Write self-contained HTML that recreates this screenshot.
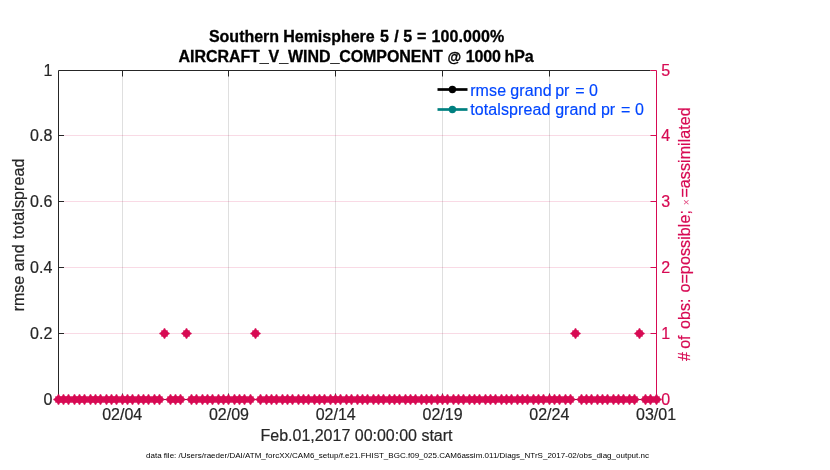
<!DOCTYPE html>
<html lang="en"><head><meta charset="utf-8"><title>AIRCRAFT_V_WIND_COMPONENT @ 1000 hPa</title>
<style>html,body{margin:0;padding:0;background:#fff;}body{width:830px;height:470px;overflow:hidden;}svg{display:block;}text{font-family:"Liberation Sans",Arial,Helvetica,sans-serif;font-size:16px;white-space:pre;}.k{stroke:#262626;stroke-width:0.2px;}.r{stroke:#d70a53;stroke-width:0.2px;}</style>
</head><body>
<svg width="830" height="470" viewBox="0 0 830 470">
<rect width="830" height="470" fill="#fff"/>
<g stroke="#262626" stroke-opacity="0.15" stroke-width="1">
<line x1="122.50" y1="70.5" x2="122.50" y2="399.5"/>
<line x1="228.50" y1="70.5" x2="228.50" y2="399.5"/>
<line x1="335.50" y1="70.5" x2="335.50" y2="399.5"/>
<line x1="442.50" y1="70.5" x2="442.50" y2="399.5"/>
<line x1="549.50" y1="70.5" x2="549.50" y2="399.5"/>
</g>
<g stroke="#d70a53" stroke-opacity="0.15" stroke-width="1">
<line x1="58.5" y1="333.50" x2="656.5" y2="333.50"/>
<line x1="58.5" y1="267.50" x2="656.5" y2="267.50"/>
<line x1="58.5" y1="201.50" x2="656.5" y2="201.50"/>
<line x1="58.5" y1="135.50" x2="656.5" y2="135.50"/>
</g>
<g stroke="#262626" stroke-width="1" fill="none">
<path d="M58.5 399.5V70.5H650.5"/>
<path d="M58.5 399.5H656.5"/>
<path d="M122.50 70.5v6M122.50 399.5v-6"/>
<path d="M228.50 70.5v6M228.50 399.5v-6"/>
<path d="M335.50 70.5v6M335.50 399.5v-6"/>
<path d="M442.50 70.5v6M442.50 399.5v-6"/>
<path d="M549.50 70.5v6M549.50 399.5v-6"/>
<path d="M58.5 333.50h5.5"/>
<path d="M58.5 267.50h5.5"/>
<path d="M58.5 201.50h5.5"/>
<path d="M58.5 135.50h5.5"/>
</g>
<g stroke="#d70a53" stroke-width="1" fill="none">
<path d="M656.5 399.5V70.5h-6"/>
<path d="M656.5 399.50h-6"/>
<path d="M656.5 333.50h-6"/>
<path d="M656.5 267.50h-6"/>
<path d="M656.5 201.50h-6"/>
<path d="M656.5 135.50h-6"/>
</g>
<g fill="#d70a53">
<polygon points="63.65,400.10 61.80,401.00 61.80,402.30 61.30,402.80 60.00,402.80 59.10,404.65 57.90,404.65 57.00,402.80 55.70,402.80 55.20,402.30 55.20,401.00 53.35,400.10 53.35,398.90 55.20,398.00 55.20,396.70 55.70,396.20 57.00,396.20 57.90,394.35 59.10,394.35 60.00,396.20 61.30,396.20 61.80,396.70 61.80,398.00 63.65,398.90"/>
<polygon points="68.65,400.10 66.80,401.00 66.80,402.30 66.30,402.80 65.00,402.80 64.10,404.65 62.90,404.65 62.00,402.80 60.70,402.80 60.20,402.30 60.20,401.00 58.35,400.10 58.35,398.90 60.20,398.00 60.20,396.70 60.70,396.20 62.00,396.20 62.90,394.35 64.10,394.35 65.00,396.20 66.30,396.20 66.80,396.70 66.80,398.00 68.65,398.90"/>
<polygon points="73.65,400.10 71.80,401.00 71.80,402.30 71.30,402.80 70.00,402.80 69.10,404.65 67.90,404.65 67.00,402.80 65.70,402.80 65.20,402.30 65.20,401.00 63.35,400.10 63.35,398.90 65.20,398.00 65.20,396.70 65.70,396.20 67.00,396.20 67.90,394.35 69.10,394.35 70.00,396.20 71.30,396.20 71.80,396.70 71.80,398.00 73.65,398.90"/>
<polygon points="79.65,400.10 77.80,401.00 77.80,402.30 77.30,402.80 76.00,402.80 75.10,404.65 73.90,404.65 73.00,402.80 71.70,402.80 71.20,402.30 71.20,401.00 69.35,400.10 69.35,398.90 71.20,398.00 71.20,396.70 71.70,396.20 73.00,396.20 73.90,394.35 75.10,394.35 76.00,396.20 77.30,396.20 77.80,396.70 77.80,398.00 79.65,398.90"/>
<polygon points="84.65,400.10 82.80,401.00 82.80,402.30 82.30,402.80 81.00,402.80 80.10,404.65 78.90,404.65 78.00,402.80 76.70,402.80 76.20,402.30 76.20,401.00 74.35,400.10 74.35,398.90 76.20,398.00 76.20,396.70 76.70,396.20 78.00,396.20 78.90,394.35 80.10,394.35 81.00,396.20 82.30,396.20 82.80,396.70 82.80,398.00 84.65,398.90"/>
<polygon points="89.65,400.10 87.80,401.00 87.80,402.30 87.30,402.80 86.00,402.80 85.10,404.65 83.90,404.65 83.00,402.80 81.70,402.80 81.20,402.30 81.20,401.00 79.35,400.10 79.35,398.90 81.20,398.00 81.20,396.70 81.70,396.20 83.00,396.20 83.90,394.35 85.10,394.35 86.00,396.20 87.30,396.20 87.80,396.70 87.80,398.00 89.65,398.90"/>
<polygon points="95.65,400.10 93.80,401.00 93.80,402.30 93.30,402.80 92.00,402.80 91.10,404.65 89.90,404.65 89.00,402.80 87.70,402.80 87.20,402.30 87.20,401.00 85.35,400.10 85.35,398.90 87.20,398.00 87.20,396.70 87.70,396.20 89.00,396.20 89.90,394.35 91.10,394.35 92.00,396.20 93.30,396.20 93.80,396.70 93.80,398.00 95.65,398.90"/>
<polygon points="100.65,400.10 98.80,401.00 98.80,402.30 98.30,402.80 97.00,402.80 96.10,404.65 94.90,404.65 94.00,402.80 92.70,402.80 92.20,402.30 92.20,401.00 90.35,400.10 90.35,398.90 92.20,398.00 92.20,396.70 92.70,396.20 94.00,396.20 94.90,394.35 96.10,394.35 97.00,396.20 98.30,396.20 98.80,396.70 98.80,398.00 100.65,398.90"/>
<polygon points="105.65,400.10 103.80,401.00 103.80,402.30 103.30,402.80 102.00,402.80 101.10,404.65 99.90,404.65 99.00,402.80 97.70,402.80 97.20,402.30 97.20,401.00 95.35,400.10 95.35,398.90 97.20,398.00 97.20,396.70 97.70,396.20 99.00,396.20 99.90,394.35 101.10,394.35 102.00,396.20 103.30,396.20 103.80,396.70 103.80,398.00 105.65,398.90"/>
<polygon points="111.65,400.10 109.80,401.00 109.80,402.30 109.30,402.80 108.00,402.80 107.10,404.65 105.90,404.65 105.00,402.80 103.70,402.80 103.20,402.30 103.20,401.00 101.35,400.10 101.35,398.90 103.20,398.00 103.20,396.70 103.70,396.20 105.00,396.20 105.90,394.35 107.10,394.35 108.00,396.20 109.30,396.20 109.80,396.70 109.80,398.00 111.65,398.90"/>
<polygon points="116.65,400.10 114.80,401.00 114.80,402.30 114.30,402.80 113.00,402.80 112.10,404.65 110.90,404.65 110.00,402.80 108.70,402.80 108.20,402.30 108.20,401.00 106.35,400.10 106.35,398.90 108.20,398.00 108.20,396.70 108.70,396.20 110.00,396.20 110.90,394.35 112.10,394.35 113.00,396.20 114.30,396.20 114.80,396.70 114.80,398.00 116.65,398.90"/>
<polygon points="121.65,400.10 119.80,401.00 119.80,402.30 119.30,402.80 118.00,402.80 117.10,404.65 115.90,404.65 115.00,402.80 113.70,402.80 113.20,402.30 113.20,401.00 111.35,400.10 111.35,398.90 113.20,398.00 113.20,396.70 113.70,396.20 115.00,396.20 115.90,394.35 117.10,394.35 118.00,396.20 119.30,396.20 119.80,396.70 119.80,398.00 121.65,398.90"/>
<polygon points="127.65,400.10 125.80,401.00 125.80,402.30 125.30,402.80 124.00,402.80 123.10,404.65 121.90,404.65 121.00,402.80 119.70,402.80 119.20,402.30 119.20,401.00 117.35,400.10 117.35,398.90 119.20,398.00 119.20,396.70 119.70,396.20 121.00,396.20 121.90,394.35 123.10,394.35 124.00,396.20 125.30,396.20 125.80,396.70 125.80,398.00 127.65,398.90"/>
<polygon points="132.65,400.10 130.80,401.00 130.80,402.30 130.30,402.80 129.00,402.80 128.10,404.65 126.90,404.65 126.00,402.80 124.70,402.80 124.20,402.30 124.20,401.00 122.35,400.10 122.35,398.90 124.20,398.00 124.20,396.70 124.70,396.20 126.00,396.20 126.90,394.35 128.10,394.35 129.00,396.20 130.30,396.20 130.80,396.70 130.80,398.00 132.65,398.90"/>
<polygon points="137.65,400.10 135.80,401.00 135.80,402.30 135.30,402.80 134.00,402.80 133.10,404.65 131.90,404.65 131.00,402.80 129.70,402.80 129.20,402.30 129.20,401.00 127.35,400.10 127.35,398.90 129.20,398.00 129.20,396.70 129.70,396.20 131.00,396.20 131.90,394.35 133.10,394.35 134.00,396.20 135.30,396.20 135.80,396.70 135.80,398.00 137.65,398.90"/>
<polygon points="143.65,400.10 141.80,401.00 141.80,402.30 141.30,402.80 140.00,402.80 139.10,404.65 137.90,404.65 137.00,402.80 135.70,402.80 135.20,402.30 135.20,401.00 133.35,400.10 133.35,398.90 135.20,398.00 135.20,396.70 135.70,396.20 137.00,396.20 137.90,394.35 139.10,394.35 140.00,396.20 141.30,396.20 141.80,396.70 141.80,398.00 143.65,398.90"/>
<polygon points="148.65,400.10 146.80,401.00 146.80,402.30 146.30,402.80 145.00,402.80 144.10,404.65 142.90,404.65 142.00,402.80 140.70,402.80 140.20,402.30 140.20,401.00 138.35,400.10 138.35,398.90 140.20,398.00 140.20,396.70 140.70,396.20 142.00,396.20 142.90,394.35 144.10,394.35 145.00,396.20 146.30,396.20 146.80,396.70 146.80,398.00 148.65,398.90"/>
<polygon points="153.65,400.10 151.80,401.00 151.80,402.30 151.30,402.80 150.00,402.80 149.10,404.65 147.90,404.65 147.00,402.80 145.70,402.80 145.20,402.30 145.20,401.00 143.35,400.10 143.35,398.90 145.20,398.00 145.20,396.70 145.70,396.20 147.00,396.20 147.90,394.35 149.10,394.35 150.00,396.20 151.30,396.20 151.80,396.70 151.80,398.00 153.65,398.90"/>
<polygon points="159.65,400.10 157.80,401.00 157.80,402.30 157.30,402.80 156.00,402.80 155.10,404.65 153.90,404.65 153.00,402.80 151.70,402.80 151.20,402.30 151.20,401.00 149.35,400.10 149.35,398.90 151.20,398.00 151.20,396.70 151.70,396.20 153.00,396.20 153.90,394.35 155.10,394.35 156.00,396.20 157.30,396.20 157.80,396.70 157.80,398.00 159.65,398.90"/>
<polygon points="164.65,400.10 162.80,401.00 162.80,402.30 162.30,402.80 161.00,402.80 160.10,404.65 158.90,404.65 158.00,402.80 156.70,402.80 156.20,402.30 156.20,401.00 154.35,400.10 154.35,398.90 156.20,398.00 156.20,396.70 156.70,396.20 158.00,396.20 158.90,394.35 160.10,394.35 161.00,396.20 162.30,396.20 162.80,396.70 162.80,398.00 164.65,398.90"/>
<polygon points="169.65,334.10 167.80,335.00 167.80,336.30 167.30,336.80 166.00,336.80 165.10,338.65 163.90,338.65 163.00,336.80 161.70,336.80 161.20,336.30 161.20,335.00 159.35,334.10 159.35,332.90 161.20,332.00 161.20,330.70 161.70,330.20 163.00,330.20 163.90,328.35 165.10,328.35 166.00,330.20 167.30,330.20 167.80,330.70 167.80,332.00 169.65,332.90"/>
<polygon points="175.65,400.10 173.80,401.00 173.80,402.30 173.30,402.80 172.00,402.80 171.10,404.65 169.90,404.65 169.00,402.80 167.70,402.80 167.20,402.30 167.20,401.00 165.35,400.10 165.35,398.90 167.20,398.00 167.20,396.70 167.70,396.20 169.00,396.20 169.90,394.35 171.10,394.35 172.00,396.20 173.30,396.20 173.80,396.70 173.80,398.00 175.65,398.90"/>
<polygon points="180.65,400.10 178.80,401.00 178.80,402.30 178.30,402.80 177.00,402.80 176.10,404.65 174.90,404.65 174.00,402.80 172.70,402.80 172.20,402.30 172.20,401.00 170.35,400.10 170.35,398.90 172.20,398.00 172.20,396.70 172.70,396.20 174.00,396.20 174.90,394.35 176.10,394.35 177.00,396.20 178.30,396.20 178.80,396.70 178.80,398.00 180.65,398.90"/>
<polygon points="185.65,400.10 183.80,401.00 183.80,402.30 183.30,402.80 182.00,402.80 181.10,404.65 179.90,404.65 179.00,402.80 177.70,402.80 177.20,402.30 177.20,401.00 175.35,400.10 175.35,398.90 177.20,398.00 177.20,396.70 177.70,396.20 179.00,396.20 179.90,394.35 181.10,394.35 182.00,396.20 183.30,396.20 183.80,396.70 183.80,398.00 185.65,398.90"/>
<polygon points="191.65,334.10 189.80,335.00 189.80,336.30 189.30,336.80 188.00,336.80 187.10,338.65 185.90,338.65 185.00,336.80 183.70,336.80 183.20,336.30 183.20,335.00 181.35,334.10 181.35,332.90 183.20,332.00 183.20,330.70 183.70,330.20 185.00,330.20 185.90,328.35 187.10,328.35 188.00,330.20 189.30,330.20 189.80,330.70 189.80,332.00 191.65,332.90"/>
<polygon points="196.65,400.10 194.80,401.00 194.80,402.30 194.30,402.80 193.00,402.80 192.10,404.65 190.90,404.65 190.00,402.80 188.70,402.80 188.20,402.30 188.20,401.00 186.35,400.10 186.35,398.90 188.20,398.00 188.20,396.70 188.70,396.20 190.00,396.20 190.90,394.35 192.10,394.35 193.00,396.20 194.30,396.20 194.80,396.70 194.80,398.00 196.65,398.90"/>
<polygon points="201.65,400.10 199.80,401.00 199.80,402.30 199.30,402.80 198.00,402.80 197.10,404.65 195.90,404.65 195.00,402.80 193.70,402.80 193.20,402.30 193.20,401.00 191.35,400.10 191.35,398.90 193.20,398.00 193.20,396.70 193.70,396.20 195.00,396.20 195.90,394.35 197.10,394.35 198.00,396.20 199.30,396.20 199.80,396.70 199.80,398.00 201.65,398.90"/>
<polygon points="207.65,400.10 205.80,401.00 205.80,402.30 205.30,402.80 204.00,402.80 203.10,404.65 201.90,404.65 201.00,402.80 199.70,402.80 199.20,402.30 199.20,401.00 197.35,400.10 197.35,398.90 199.20,398.00 199.20,396.70 199.70,396.20 201.00,396.20 201.90,394.35 203.10,394.35 204.00,396.20 205.30,396.20 205.80,396.70 205.80,398.00 207.65,398.90"/>
<polygon points="212.65,400.10 210.80,401.00 210.80,402.30 210.30,402.80 209.00,402.80 208.10,404.65 206.90,404.65 206.00,402.80 204.70,402.80 204.20,402.30 204.20,401.00 202.35,400.10 202.35,398.90 204.20,398.00 204.20,396.70 204.70,396.20 206.00,396.20 206.90,394.35 208.10,394.35 209.00,396.20 210.30,396.20 210.80,396.70 210.80,398.00 212.65,398.90"/>
<polygon points="217.65,400.10 215.80,401.00 215.80,402.30 215.30,402.80 214.00,402.80 213.10,404.65 211.90,404.65 211.00,402.80 209.70,402.80 209.20,402.30 209.20,401.00 207.35,400.10 207.35,398.90 209.20,398.00 209.20,396.70 209.70,396.20 211.00,396.20 211.90,394.35 213.10,394.35 214.00,396.20 215.30,396.20 215.80,396.70 215.80,398.00 217.65,398.90"/>
<polygon points="223.65,400.10 221.80,401.00 221.80,402.30 221.30,402.80 220.00,402.80 219.10,404.65 217.90,404.65 217.00,402.80 215.70,402.80 215.20,402.30 215.20,401.00 213.35,400.10 213.35,398.90 215.20,398.00 215.20,396.70 215.70,396.20 217.00,396.20 217.90,394.35 219.10,394.35 220.00,396.20 221.30,396.20 221.80,396.70 221.80,398.00 223.65,398.90"/>
<polygon points="228.65,400.10 226.80,401.00 226.80,402.30 226.30,402.80 225.00,402.80 224.10,404.65 222.90,404.65 222.00,402.80 220.70,402.80 220.20,402.30 220.20,401.00 218.35,400.10 218.35,398.90 220.20,398.00 220.20,396.70 220.70,396.20 222.00,396.20 222.90,394.35 224.10,394.35 225.00,396.20 226.30,396.20 226.80,396.70 226.80,398.00 228.65,398.90"/>
<polygon points="233.65,400.10 231.80,401.00 231.80,402.30 231.30,402.80 230.00,402.80 229.10,404.65 227.90,404.65 227.00,402.80 225.70,402.80 225.20,402.30 225.20,401.00 223.35,400.10 223.35,398.90 225.20,398.00 225.20,396.70 225.70,396.20 227.00,396.20 227.90,394.35 229.10,394.35 230.00,396.20 231.30,396.20 231.80,396.70 231.80,398.00 233.65,398.90"/>
<polygon points="239.65,400.10 237.80,401.00 237.80,402.30 237.30,402.80 236.00,402.80 235.10,404.65 233.90,404.65 233.00,402.80 231.70,402.80 231.20,402.30 231.20,401.00 229.35,400.10 229.35,398.90 231.20,398.00 231.20,396.70 231.70,396.20 233.00,396.20 233.90,394.35 235.10,394.35 236.00,396.20 237.30,396.20 237.80,396.70 237.80,398.00 239.65,398.90"/>
<polygon points="244.65,400.10 242.80,401.00 242.80,402.30 242.30,402.80 241.00,402.80 240.10,404.65 238.90,404.65 238.00,402.80 236.70,402.80 236.20,402.30 236.20,401.00 234.35,400.10 234.35,398.90 236.20,398.00 236.20,396.70 236.70,396.20 238.00,396.20 238.90,394.35 240.10,394.35 241.00,396.20 242.30,396.20 242.80,396.70 242.80,398.00 244.65,398.90"/>
<polygon points="249.65,400.10 247.80,401.00 247.80,402.30 247.30,402.80 246.00,402.80 245.10,404.65 243.90,404.65 243.00,402.80 241.70,402.80 241.20,402.30 241.20,401.00 239.35,400.10 239.35,398.90 241.20,398.00 241.20,396.70 241.70,396.20 243.00,396.20 243.90,394.35 245.10,394.35 246.00,396.20 247.30,396.20 247.80,396.70 247.80,398.00 249.65,398.90"/>
<polygon points="255.65,400.10 253.80,401.00 253.80,402.30 253.30,402.80 252.00,402.80 251.10,404.65 249.90,404.65 249.00,402.80 247.70,402.80 247.20,402.30 247.20,401.00 245.35,400.10 245.35,398.90 247.20,398.00 247.20,396.70 247.70,396.20 249.00,396.20 249.90,394.35 251.10,394.35 252.00,396.20 253.30,396.20 253.80,396.70 253.80,398.00 255.65,398.90"/>
<polygon points="260.65,334.10 258.80,335.00 258.80,336.30 258.30,336.80 257.00,336.80 256.10,338.65 254.90,338.65 254.00,336.80 252.70,336.80 252.20,336.30 252.20,335.00 250.35,334.10 250.35,332.90 252.20,332.00 252.20,330.70 252.70,330.20 254.00,330.20 254.90,328.35 256.10,328.35 257.00,330.20 258.30,330.20 258.80,330.70 258.80,332.00 260.65,332.90"/>
<polygon points="265.65,400.10 263.80,401.00 263.80,402.30 263.30,402.80 262.00,402.80 261.10,404.65 259.90,404.65 259.00,402.80 257.70,402.80 257.20,402.30 257.20,401.00 255.35,400.10 255.35,398.90 257.20,398.00 257.20,396.70 257.70,396.20 259.00,396.20 259.90,394.35 261.10,394.35 262.00,396.20 263.30,396.20 263.80,396.70 263.80,398.00 265.65,398.90"/>
<polygon points="271.65,400.10 269.80,401.00 269.80,402.30 269.30,402.80 268.00,402.80 267.10,404.65 265.90,404.65 265.00,402.80 263.70,402.80 263.20,402.30 263.20,401.00 261.35,400.10 261.35,398.90 263.20,398.00 263.20,396.70 263.70,396.20 265.00,396.20 265.90,394.35 267.10,394.35 268.00,396.20 269.30,396.20 269.80,396.70 269.80,398.00 271.65,398.90"/>
<polygon points="276.65,400.10 274.80,401.00 274.80,402.30 274.30,402.80 273.00,402.80 272.10,404.65 270.90,404.65 270.00,402.80 268.70,402.80 268.20,402.30 268.20,401.00 266.35,400.10 266.35,398.90 268.20,398.00 268.20,396.70 268.70,396.20 270.00,396.20 270.90,394.35 272.10,394.35 273.00,396.20 274.30,396.20 274.80,396.70 274.80,398.00 276.65,398.90"/>
<polygon points="281.65,400.10 279.80,401.00 279.80,402.30 279.30,402.80 278.00,402.80 277.10,404.65 275.90,404.65 275.00,402.80 273.70,402.80 273.20,402.30 273.20,401.00 271.35,400.10 271.35,398.90 273.20,398.00 273.20,396.70 273.70,396.20 275.00,396.20 275.90,394.35 277.10,394.35 278.00,396.20 279.30,396.20 279.80,396.70 279.80,398.00 281.65,398.90"/>
<polygon points="287.65,400.10 285.80,401.00 285.80,402.30 285.30,402.80 284.00,402.80 283.10,404.65 281.90,404.65 281.00,402.80 279.70,402.80 279.20,402.30 279.20,401.00 277.35,400.10 277.35,398.90 279.20,398.00 279.20,396.70 279.70,396.20 281.00,396.20 281.90,394.35 283.10,394.35 284.00,396.20 285.30,396.20 285.80,396.70 285.80,398.00 287.65,398.90"/>
<polygon points="292.65,400.10 290.80,401.00 290.80,402.30 290.30,402.80 289.00,402.80 288.10,404.65 286.90,404.65 286.00,402.80 284.70,402.80 284.20,402.30 284.20,401.00 282.35,400.10 282.35,398.90 284.20,398.00 284.20,396.70 284.70,396.20 286.00,396.20 286.90,394.35 288.10,394.35 289.00,396.20 290.30,396.20 290.80,396.70 290.80,398.00 292.65,398.90"/>
<polygon points="297.65,400.10 295.80,401.00 295.80,402.30 295.30,402.80 294.00,402.80 293.10,404.65 291.90,404.65 291.00,402.80 289.70,402.80 289.20,402.30 289.20,401.00 287.35,400.10 287.35,398.90 289.20,398.00 289.20,396.70 289.70,396.20 291.00,396.20 291.90,394.35 293.10,394.35 294.00,396.20 295.30,396.20 295.80,396.70 295.80,398.00 297.65,398.90"/>
<polygon points="303.65,400.10 301.80,401.00 301.80,402.30 301.30,402.80 300.00,402.80 299.10,404.65 297.90,404.65 297.00,402.80 295.70,402.80 295.20,402.30 295.20,401.00 293.35,400.10 293.35,398.90 295.20,398.00 295.20,396.70 295.70,396.20 297.00,396.20 297.90,394.35 299.10,394.35 300.00,396.20 301.30,396.20 301.80,396.70 301.80,398.00 303.65,398.90"/>
<polygon points="308.65,400.10 306.80,401.00 306.80,402.30 306.30,402.80 305.00,402.80 304.10,404.65 302.90,404.65 302.00,402.80 300.70,402.80 300.20,402.30 300.20,401.00 298.35,400.10 298.35,398.90 300.20,398.00 300.20,396.70 300.70,396.20 302.00,396.20 302.90,394.35 304.10,394.35 305.00,396.20 306.30,396.20 306.80,396.70 306.80,398.00 308.65,398.90"/>
<polygon points="313.65,400.10 311.80,401.00 311.80,402.30 311.30,402.80 310.00,402.80 309.10,404.65 307.90,404.65 307.00,402.80 305.70,402.80 305.20,402.30 305.20,401.00 303.35,400.10 303.35,398.90 305.20,398.00 305.20,396.70 305.70,396.20 307.00,396.20 307.90,394.35 309.10,394.35 310.00,396.20 311.30,396.20 311.80,396.70 311.80,398.00 313.65,398.90"/>
<polygon points="319.65,400.10 317.80,401.00 317.80,402.30 317.30,402.80 316.00,402.80 315.10,404.65 313.90,404.65 313.00,402.80 311.70,402.80 311.20,402.30 311.20,401.00 309.35,400.10 309.35,398.90 311.20,398.00 311.20,396.70 311.70,396.20 313.00,396.20 313.90,394.35 315.10,394.35 316.00,396.20 317.30,396.20 317.80,396.70 317.80,398.00 319.65,398.90"/>
<polygon points="324.65,400.10 322.80,401.00 322.80,402.30 322.30,402.80 321.00,402.80 320.10,404.65 318.90,404.65 318.00,402.80 316.70,402.80 316.20,402.30 316.20,401.00 314.35,400.10 314.35,398.90 316.20,398.00 316.20,396.70 316.70,396.20 318.00,396.20 318.90,394.35 320.10,394.35 321.00,396.20 322.30,396.20 322.80,396.70 322.80,398.00 324.65,398.90"/>
<polygon points="329.65,400.10 327.80,401.00 327.80,402.30 327.30,402.80 326.00,402.80 325.10,404.65 323.90,404.65 323.00,402.80 321.70,402.80 321.20,402.30 321.20,401.00 319.35,400.10 319.35,398.90 321.20,398.00 321.20,396.70 321.70,396.20 323.00,396.20 323.90,394.35 325.10,394.35 326.00,396.20 327.30,396.20 327.80,396.70 327.80,398.00 329.65,398.90"/>
<polygon points="335.65,400.10 333.80,401.00 333.80,402.30 333.30,402.80 332.00,402.80 331.10,404.65 329.90,404.65 329.00,402.80 327.70,402.80 327.20,402.30 327.20,401.00 325.35,400.10 325.35,398.90 327.20,398.00 327.20,396.70 327.70,396.20 329.00,396.20 329.90,394.35 331.10,394.35 332.00,396.20 333.30,396.20 333.80,396.70 333.80,398.00 335.65,398.90"/>
<polygon points="340.65,400.10 338.80,401.00 338.80,402.30 338.30,402.80 337.00,402.80 336.10,404.65 334.90,404.65 334.00,402.80 332.70,402.80 332.20,402.30 332.20,401.00 330.35,400.10 330.35,398.90 332.20,398.00 332.20,396.70 332.70,396.20 334.00,396.20 334.90,394.35 336.10,394.35 337.00,396.20 338.30,396.20 338.80,396.70 338.80,398.00 340.65,398.90"/>
<polygon points="345.65,400.10 343.80,401.00 343.80,402.30 343.30,402.80 342.00,402.80 341.10,404.65 339.90,404.65 339.00,402.80 337.70,402.80 337.20,402.30 337.20,401.00 335.35,400.10 335.35,398.90 337.20,398.00 337.20,396.70 337.70,396.20 339.00,396.20 339.90,394.35 341.10,394.35 342.00,396.20 343.30,396.20 343.80,396.70 343.80,398.00 345.65,398.90"/>
<polygon points="351.65,400.10 349.80,401.00 349.80,402.30 349.30,402.80 348.00,402.80 347.10,404.65 345.90,404.65 345.00,402.80 343.70,402.80 343.20,402.30 343.20,401.00 341.35,400.10 341.35,398.90 343.20,398.00 343.20,396.70 343.70,396.20 345.00,396.20 345.90,394.35 347.10,394.35 348.00,396.20 349.30,396.20 349.80,396.70 349.80,398.00 351.65,398.90"/>
<polygon points="356.65,400.10 354.80,401.00 354.80,402.30 354.30,402.80 353.00,402.80 352.10,404.65 350.90,404.65 350.00,402.80 348.70,402.80 348.20,402.30 348.20,401.00 346.35,400.10 346.35,398.90 348.20,398.00 348.20,396.70 348.70,396.20 350.00,396.20 350.90,394.35 352.10,394.35 353.00,396.20 354.30,396.20 354.80,396.70 354.80,398.00 356.65,398.90"/>
<polygon points="362.65,400.10 360.80,401.00 360.80,402.30 360.30,402.80 359.00,402.80 358.10,404.65 356.90,404.65 356.00,402.80 354.70,402.80 354.20,402.30 354.20,401.00 352.35,400.10 352.35,398.90 354.20,398.00 354.20,396.70 354.70,396.20 356.00,396.20 356.90,394.35 358.10,394.35 359.00,396.20 360.30,396.20 360.80,396.70 360.80,398.00 362.65,398.90"/>
<polygon points="367.65,400.10 365.80,401.00 365.80,402.30 365.30,402.80 364.00,402.80 363.10,404.65 361.90,404.65 361.00,402.80 359.70,402.80 359.20,402.30 359.20,401.00 357.35,400.10 357.35,398.90 359.20,398.00 359.20,396.70 359.70,396.20 361.00,396.20 361.90,394.35 363.10,394.35 364.00,396.20 365.30,396.20 365.80,396.70 365.80,398.00 367.65,398.90"/>
<polygon points="372.65,400.10 370.80,401.00 370.80,402.30 370.30,402.80 369.00,402.80 368.10,404.65 366.90,404.65 366.00,402.80 364.70,402.80 364.20,402.30 364.20,401.00 362.35,400.10 362.35,398.90 364.20,398.00 364.20,396.70 364.70,396.20 366.00,396.20 366.90,394.35 368.10,394.35 369.00,396.20 370.30,396.20 370.80,396.70 370.80,398.00 372.65,398.90"/>
<polygon points="378.65,400.10 376.80,401.00 376.80,402.30 376.30,402.80 375.00,402.80 374.10,404.65 372.90,404.65 372.00,402.80 370.70,402.80 370.20,402.30 370.20,401.00 368.35,400.10 368.35,398.90 370.20,398.00 370.20,396.70 370.70,396.20 372.00,396.20 372.90,394.35 374.10,394.35 375.00,396.20 376.30,396.20 376.80,396.70 376.80,398.00 378.65,398.90"/>
<polygon points="383.65,400.10 381.80,401.00 381.80,402.30 381.30,402.80 380.00,402.80 379.10,404.65 377.90,404.65 377.00,402.80 375.70,402.80 375.20,402.30 375.20,401.00 373.35,400.10 373.35,398.90 375.20,398.00 375.20,396.70 375.70,396.20 377.00,396.20 377.90,394.35 379.10,394.35 380.00,396.20 381.30,396.20 381.80,396.70 381.80,398.00 383.65,398.90"/>
<polygon points="388.65,400.10 386.80,401.00 386.80,402.30 386.30,402.80 385.00,402.80 384.10,404.65 382.90,404.65 382.00,402.80 380.70,402.80 380.20,402.30 380.20,401.00 378.35,400.10 378.35,398.90 380.20,398.00 380.20,396.70 380.70,396.20 382.00,396.20 382.90,394.35 384.10,394.35 385.00,396.20 386.30,396.20 386.80,396.70 386.80,398.00 388.65,398.90"/>
<polygon points="394.65,400.10 392.80,401.00 392.80,402.30 392.30,402.80 391.00,402.80 390.10,404.65 388.90,404.65 388.00,402.80 386.70,402.80 386.20,402.30 386.20,401.00 384.35,400.10 384.35,398.90 386.20,398.00 386.20,396.70 386.70,396.20 388.00,396.20 388.90,394.35 390.10,394.35 391.00,396.20 392.30,396.20 392.80,396.70 392.80,398.00 394.65,398.90"/>
<polygon points="399.65,400.10 397.80,401.00 397.80,402.30 397.30,402.80 396.00,402.80 395.10,404.65 393.90,404.65 393.00,402.80 391.70,402.80 391.20,402.30 391.20,401.00 389.35,400.10 389.35,398.90 391.20,398.00 391.20,396.70 391.70,396.20 393.00,396.20 393.90,394.35 395.10,394.35 396.00,396.20 397.30,396.20 397.80,396.70 397.80,398.00 399.65,398.90"/>
<polygon points="404.65,400.10 402.80,401.00 402.80,402.30 402.30,402.80 401.00,402.80 400.10,404.65 398.90,404.65 398.00,402.80 396.70,402.80 396.20,402.30 396.20,401.00 394.35,400.10 394.35,398.90 396.20,398.00 396.20,396.70 396.70,396.20 398.00,396.20 398.90,394.35 400.10,394.35 401.00,396.20 402.30,396.20 402.80,396.70 402.80,398.00 404.65,398.90"/>
<polygon points="410.65,400.10 408.80,401.00 408.80,402.30 408.30,402.80 407.00,402.80 406.10,404.65 404.90,404.65 404.00,402.80 402.70,402.80 402.20,402.30 402.20,401.00 400.35,400.10 400.35,398.90 402.20,398.00 402.20,396.70 402.70,396.20 404.00,396.20 404.90,394.35 406.10,394.35 407.00,396.20 408.30,396.20 408.80,396.70 408.80,398.00 410.65,398.90"/>
<polygon points="415.65,400.10 413.80,401.00 413.80,402.30 413.30,402.80 412.00,402.80 411.10,404.65 409.90,404.65 409.00,402.80 407.70,402.80 407.20,402.30 407.20,401.00 405.35,400.10 405.35,398.90 407.20,398.00 407.20,396.70 407.70,396.20 409.00,396.20 409.90,394.35 411.10,394.35 412.00,396.20 413.30,396.20 413.80,396.70 413.80,398.00 415.65,398.90"/>
<polygon points="420.65,400.10 418.80,401.00 418.80,402.30 418.30,402.80 417.00,402.80 416.10,404.65 414.90,404.65 414.00,402.80 412.70,402.80 412.20,402.30 412.20,401.00 410.35,400.10 410.35,398.90 412.20,398.00 412.20,396.70 412.70,396.20 414.00,396.20 414.90,394.35 416.10,394.35 417.00,396.20 418.30,396.20 418.80,396.70 418.80,398.00 420.65,398.90"/>
<polygon points="426.65,400.10 424.80,401.00 424.80,402.30 424.30,402.80 423.00,402.80 422.10,404.65 420.90,404.65 420.00,402.80 418.70,402.80 418.20,402.30 418.20,401.00 416.35,400.10 416.35,398.90 418.20,398.00 418.20,396.70 418.70,396.20 420.00,396.20 420.90,394.35 422.10,394.35 423.00,396.20 424.30,396.20 424.80,396.70 424.80,398.00 426.65,398.90"/>
<polygon points="431.65,400.10 429.80,401.00 429.80,402.30 429.30,402.80 428.00,402.80 427.10,404.65 425.90,404.65 425.00,402.80 423.70,402.80 423.20,402.30 423.20,401.00 421.35,400.10 421.35,398.90 423.20,398.00 423.20,396.70 423.70,396.20 425.00,396.20 425.90,394.35 427.10,394.35 428.00,396.20 429.30,396.20 429.80,396.70 429.80,398.00 431.65,398.90"/>
<polygon points="436.65,400.10 434.80,401.00 434.80,402.30 434.30,402.80 433.00,402.80 432.10,404.65 430.90,404.65 430.00,402.80 428.70,402.80 428.20,402.30 428.20,401.00 426.35,400.10 426.35,398.90 428.20,398.00 428.20,396.70 428.70,396.20 430.00,396.20 430.90,394.35 432.10,394.35 433.00,396.20 434.30,396.20 434.80,396.70 434.80,398.00 436.65,398.90"/>
<polygon points="442.65,400.10 440.80,401.00 440.80,402.30 440.30,402.80 439.00,402.80 438.10,404.65 436.90,404.65 436.00,402.80 434.70,402.80 434.20,402.30 434.20,401.00 432.35,400.10 432.35,398.90 434.20,398.00 434.20,396.70 434.70,396.20 436.00,396.20 436.90,394.35 438.10,394.35 439.00,396.20 440.30,396.20 440.80,396.70 440.80,398.00 442.65,398.90"/>
<polygon points="447.65,400.10 445.80,401.00 445.80,402.30 445.30,402.80 444.00,402.80 443.10,404.65 441.90,404.65 441.00,402.80 439.70,402.80 439.20,402.30 439.20,401.00 437.35,400.10 437.35,398.90 439.20,398.00 439.20,396.70 439.70,396.20 441.00,396.20 441.90,394.35 443.10,394.35 444.00,396.20 445.30,396.20 445.80,396.70 445.80,398.00 447.65,398.90"/>
<polygon points="452.65,400.10 450.80,401.00 450.80,402.30 450.30,402.80 449.00,402.80 448.10,404.65 446.90,404.65 446.00,402.80 444.70,402.80 444.20,402.30 444.20,401.00 442.35,400.10 442.35,398.90 444.20,398.00 444.20,396.70 444.70,396.20 446.00,396.20 446.90,394.35 448.10,394.35 449.00,396.20 450.30,396.20 450.80,396.70 450.80,398.00 452.65,398.90"/>
<polygon points="458.65,400.10 456.80,401.00 456.80,402.30 456.30,402.80 455.00,402.80 454.10,404.65 452.90,404.65 452.00,402.80 450.70,402.80 450.20,402.30 450.20,401.00 448.35,400.10 448.35,398.90 450.20,398.00 450.20,396.70 450.70,396.20 452.00,396.20 452.90,394.35 454.10,394.35 455.00,396.20 456.30,396.20 456.80,396.70 456.80,398.00 458.65,398.90"/>
<polygon points="463.65,400.10 461.80,401.00 461.80,402.30 461.30,402.80 460.00,402.80 459.10,404.65 457.90,404.65 457.00,402.80 455.70,402.80 455.20,402.30 455.20,401.00 453.35,400.10 453.35,398.90 455.20,398.00 455.20,396.70 455.70,396.20 457.00,396.20 457.90,394.35 459.10,394.35 460.00,396.20 461.30,396.20 461.80,396.70 461.80,398.00 463.65,398.90"/>
<polygon points="468.65,400.10 466.80,401.00 466.80,402.30 466.30,402.80 465.00,402.80 464.10,404.65 462.90,404.65 462.00,402.80 460.70,402.80 460.20,402.30 460.20,401.00 458.35,400.10 458.35,398.90 460.20,398.00 460.20,396.70 460.70,396.20 462.00,396.20 462.90,394.35 464.10,394.35 465.00,396.20 466.30,396.20 466.80,396.70 466.80,398.00 468.65,398.90"/>
<polygon points="474.65,400.10 472.80,401.00 472.80,402.30 472.30,402.80 471.00,402.80 470.10,404.65 468.90,404.65 468.00,402.80 466.70,402.80 466.20,402.30 466.20,401.00 464.35,400.10 464.35,398.90 466.20,398.00 466.20,396.70 466.70,396.20 468.00,396.20 468.90,394.35 470.10,394.35 471.00,396.20 472.30,396.20 472.80,396.70 472.80,398.00 474.65,398.90"/>
<polygon points="479.65,400.10 477.80,401.00 477.80,402.30 477.30,402.80 476.00,402.80 475.10,404.65 473.90,404.65 473.00,402.80 471.70,402.80 471.20,402.30 471.20,401.00 469.35,400.10 469.35,398.90 471.20,398.00 471.20,396.70 471.70,396.20 473.00,396.20 473.90,394.35 475.10,394.35 476.00,396.20 477.30,396.20 477.80,396.70 477.80,398.00 479.65,398.90"/>
<polygon points="484.65,400.10 482.80,401.00 482.80,402.30 482.30,402.80 481.00,402.80 480.10,404.65 478.90,404.65 478.00,402.80 476.70,402.80 476.20,402.30 476.20,401.00 474.35,400.10 474.35,398.90 476.20,398.00 476.20,396.70 476.70,396.20 478.00,396.20 478.90,394.35 480.10,394.35 481.00,396.20 482.30,396.20 482.80,396.70 482.80,398.00 484.65,398.90"/>
<polygon points="490.65,400.10 488.80,401.00 488.80,402.30 488.30,402.80 487.00,402.80 486.10,404.65 484.90,404.65 484.00,402.80 482.70,402.80 482.20,402.30 482.20,401.00 480.35,400.10 480.35,398.90 482.20,398.00 482.20,396.70 482.70,396.20 484.00,396.20 484.90,394.35 486.10,394.35 487.00,396.20 488.30,396.20 488.80,396.70 488.80,398.00 490.65,398.90"/>
<polygon points="495.65,400.10 493.80,401.00 493.80,402.30 493.30,402.80 492.00,402.80 491.10,404.65 489.90,404.65 489.00,402.80 487.70,402.80 487.20,402.30 487.20,401.00 485.35,400.10 485.35,398.90 487.20,398.00 487.20,396.70 487.70,396.20 489.00,396.20 489.90,394.35 491.10,394.35 492.00,396.20 493.30,396.20 493.80,396.70 493.80,398.00 495.65,398.90"/>
<polygon points="500.65,400.10 498.80,401.00 498.80,402.30 498.30,402.80 497.00,402.80 496.10,404.65 494.90,404.65 494.00,402.80 492.70,402.80 492.20,402.30 492.20,401.00 490.35,400.10 490.35,398.90 492.20,398.00 492.20,396.70 492.70,396.20 494.00,396.20 494.90,394.35 496.10,394.35 497.00,396.20 498.30,396.20 498.80,396.70 498.80,398.00 500.65,398.90"/>
<polygon points="506.65,400.10 504.80,401.00 504.80,402.30 504.30,402.80 503.00,402.80 502.10,404.65 500.90,404.65 500.00,402.80 498.70,402.80 498.20,402.30 498.20,401.00 496.35,400.10 496.35,398.90 498.20,398.00 498.20,396.70 498.70,396.20 500.00,396.20 500.90,394.35 502.10,394.35 503.00,396.20 504.30,396.20 504.80,396.70 504.80,398.00 506.65,398.90"/>
<polygon points="511.65,400.10 509.80,401.00 509.80,402.30 509.30,402.80 508.00,402.80 507.10,404.65 505.90,404.65 505.00,402.80 503.70,402.80 503.20,402.30 503.20,401.00 501.35,400.10 501.35,398.90 503.20,398.00 503.20,396.70 503.70,396.20 505.00,396.20 505.90,394.35 507.10,394.35 508.00,396.20 509.30,396.20 509.80,396.70 509.80,398.00 511.65,398.90"/>
<polygon points="516.65,400.10 514.80,401.00 514.80,402.30 514.30,402.80 513.00,402.80 512.10,404.65 510.90,404.65 510.00,402.80 508.70,402.80 508.20,402.30 508.20,401.00 506.35,400.10 506.35,398.90 508.20,398.00 508.20,396.70 508.70,396.20 510.00,396.20 510.90,394.35 512.10,394.35 513.00,396.20 514.30,396.20 514.80,396.70 514.80,398.00 516.65,398.90"/>
<polygon points="522.65,400.10 520.80,401.00 520.80,402.30 520.30,402.80 519.00,402.80 518.10,404.65 516.90,404.65 516.00,402.80 514.70,402.80 514.20,402.30 514.20,401.00 512.35,400.10 512.35,398.90 514.20,398.00 514.20,396.70 514.70,396.20 516.00,396.20 516.90,394.35 518.10,394.35 519.00,396.20 520.30,396.20 520.80,396.70 520.80,398.00 522.65,398.90"/>
<polygon points="527.65,400.10 525.80,401.00 525.80,402.30 525.30,402.80 524.00,402.80 523.10,404.65 521.90,404.65 521.00,402.80 519.70,402.80 519.20,402.30 519.20,401.00 517.35,400.10 517.35,398.90 519.20,398.00 519.20,396.70 519.70,396.20 521.00,396.20 521.90,394.35 523.10,394.35 524.00,396.20 525.30,396.20 525.80,396.70 525.80,398.00 527.65,398.90"/>
<polygon points="532.65,400.10 530.80,401.00 530.80,402.30 530.30,402.80 529.00,402.80 528.10,404.65 526.90,404.65 526.00,402.80 524.70,402.80 524.20,402.30 524.20,401.00 522.35,400.10 522.35,398.90 524.20,398.00 524.20,396.70 524.70,396.20 526.00,396.20 526.90,394.35 528.10,394.35 529.00,396.20 530.30,396.20 530.80,396.70 530.80,398.00 532.65,398.90"/>
<polygon points="538.65,400.10 536.80,401.00 536.80,402.30 536.30,402.80 535.00,402.80 534.10,404.65 532.90,404.65 532.00,402.80 530.70,402.80 530.20,402.30 530.20,401.00 528.35,400.10 528.35,398.90 530.20,398.00 530.20,396.70 530.70,396.20 532.00,396.20 532.90,394.35 534.10,394.35 535.00,396.20 536.30,396.20 536.80,396.70 536.80,398.00 538.65,398.90"/>
<polygon points="543.65,400.10 541.80,401.00 541.80,402.30 541.30,402.80 540.00,402.80 539.10,404.65 537.90,404.65 537.00,402.80 535.70,402.80 535.20,402.30 535.20,401.00 533.35,400.10 533.35,398.90 535.20,398.00 535.20,396.70 535.70,396.20 537.00,396.20 537.90,394.35 539.10,394.35 540.00,396.20 541.30,396.20 541.80,396.70 541.80,398.00 543.65,398.90"/>
<polygon points="548.65,400.10 546.80,401.00 546.80,402.30 546.30,402.80 545.00,402.80 544.10,404.65 542.90,404.65 542.00,402.80 540.70,402.80 540.20,402.30 540.20,401.00 538.35,400.10 538.35,398.90 540.20,398.00 540.20,396.70 540.70,396.20 542.00,396.20 542.90,394.35 544.10,394.35 545.00,396.20 546.30,396.20 546.80,396.70 546.80,398.00 548.65,398.90"/>
<polygon points="554.65,400.10 552.80,401.00 552.80,402.30 552.30,402.80 551.00,402.80 550.10,404.65 548.90,404.65 548.00,402.80 546.70,402.80 546.20,402.30 546.20,401.00 544.35,400.10 544.35,398.90 546.20,398.00 546.20,396.70 546.70,396.20 548.00,396.20 548.90,394.35 550.10,394.35 551.00,396.20 552.30,396.20 552.80,396.70 552.80,398.00 554.65,398.90"/>
<polygon points="559.65,400.10 557.80,401.00 557.80,402.30 557.30,402.80 556.00,402.80 555.10,404.65 553.90,404.65 553.00,402.80 551.70,402.80 551.20,402.30 551.20,401.00 549.35,400.10 549.35,398.90 551.20,398.00 551.20,396.70 551.70,396.20 553.00,396.20 553.90,394.35 555.10,394.35 556.00,396.20 557.30,396.20 557.80,396.70 557.80,398.00 559.65,398.90"/>
<polygon points="564.65,400.10 562.80,401.00 562.80,402.30 562.30,402.80 561.00,402.80 560.10,404.65 558.90,404.65 558.00,402.80 556.70,402.80 556.20,402.30 556.20,401.00 554.35,400.10 554.35,398.90 556.20,398.00 556.20,396.70 556.70,396.20 558.00,396.20 558.90,394.35 560.10,394.35 561.00,396.20 562.30,396.20 562.80,396.70 562.80,398.00 564.65,398.90"/>
<polygon points="570.65,400.10 568.80,401.00 568.80,402.30 568.30,402.80 567.00,402.80 566.10,404.65 564.90,404.65 564.00,402.80 562.70,402.80 562.20,402.30 562.20,401.00 560.35,400.10 560.35,398.90 562.20,398.00 562.20,396.70 562.70,396.20 564.00,396.20 564.90,394.35 566.10,394.35 567.00,396.20 568.30,396.20 568.80,396.70 568.80,398.00 570.65,398.90"/>
<polygon points="575.65,400.10 573.80,401.00 573.80,402.30 573.30,402.80 572.00,402.80 571.10,404.65 569.90,404.65 569.00,402.80 567.70,402.80 567.20,402.30 567.20,401.00 565.35,400.10 565.35,398.90 567.20,398.00 567.20,396.70 567.70,396.20 569.00,396.20 569.90,394.35 571.10,394.35 572.00,396.20 573.30,396.20 573.80,396.70 573.80,398.00 575.65,398.90"/>
<polygon points="580.65,334.10 578.80,335.00 578.80,336.30 578.30,336.80 577.00,336.80 576.10,338.65 574.90,338.65 574.00,336.80 572.70,336.80 572.20,336.30 572.20,335.00 570.35,334.10 570.35,332.90 572.20,332.00 572.20,330.70 572.70,330.20 574.00,330.20 574.90,328.35 576.10,328.35 577.00,330.20 578.30,330.20 578.80,330.70 578.80,332.00 580.65,332.90"/>
<polygon points="586.65,400.10 584.80,401.00 584.80,402.30 584.30,402.80 583.00,402.80 582.10,404.65 580.90,404.65 580.00,402.80 578.70,402.80 578.20,402.30 578.20,401.00 576.35,400.10 576.35,398.90 578.20,398.00 578.20,396.70 578.70,396.20 580.00,396.20 580.90,394.35 582.10,394.35 583.00,396.20 584.30,396.20 584.80,396.70 584.80,398.00 586.65,398.90"/>
<polygon points="591.65,400.10 589.80,401.00 589.80,402.30 589.30,402.80 588.00,402.80 587.10,404.65 585.90,404.65 585.00,402.80 583.70,402.80 583.20,402.30 583.20,401.00 581.35,400.10 581.35,398.90 583.20,398.00 583.20,396.70 583.70,396.20 585.00,396.20 585.90,394.35 587.10,394.35 588.00,396.20 589.30,396.20 589.80,396.70 589.80,398.00 591.65,398.90"/>
<polygon points="596.65,400.10 594.80,401.00 594.80,402.30 594.30,402.80 593.00,402.80 592.10,404.65 590.90,404.65 590.00,402.80 588.70,402.80 588.20,402.30 588.20,401.00 586.35,400.10 586.35,398.90 588.20,398.00 588.20,396.70 588.70,396.20 590.00,396.20 590.90,394.35 592.10,394.35 593.00,396.20 594.30,396.20 594.80,396.70 594.80,398.00 596.65,398.90"/>
<polygon points="602.65,400.10 600.80,401.00 600.80,402.30 600.30,402.80 599.00,402.80 598.10,404.65 596.90,404.65 596.00,402.80 594.70,402.80 594.20,402.30 594.20,401.00 592.35,400.10 592.35,398.90 594.20,398.00 594.20,396.70 594.70,396.20 596.00,396.20 596.90,394.35 598.10,394.35 599.00,396.20 600.30,396.20 600.80,396.70 600.80,398.00 602.65,398.90"/>
<polygon points="607.65,400.10 605.80,401.00 605.80,402.30 605.30,402.80 604.00,402.80 603.10,404.65 601.90,404.65 601.00,402.80 599.70,402.80 599.20,402.30 599.20,401.00 597.35,400.10 597.35,398.90 599.20,398.00 599.20,396.70 599.70,396.20 601.00,396.20 601.90,394.35 603.10,394.35 604.00,396.20 605.30,396.20 605.80,396.70 605.80,398.00 607.65,398.90"/>
<polygon points="612.65,400.10 610.80,401.00 610.80,402.30 610.30,402.80 609.00,402.80 608.10,404.65 606.90,404.65 606.00,402.80 604.70,402.80 604.20,402.30 604.20,401.00 602.35,400.10 602.35,398.90 604.20,398.00 604.20,396.70 604.70,396.20 606.00,396.20 606.90,394.35 608.10,394.35 609.00,396.20 610.30,396.20 610.80,396.70 610.80,398.00 612.65,398.90"/>
<polygon points="618.65,400.10 616.80,401.00 616.80,402.30 616.30,402.80 615.00,402.80 614.10,404.65 612.90,404.65 612.00,402.80 610.70,402.80 610.20,402.30 610.20,401.00 608.35,400.10 608.35,398.90 610.20,398.00 610.20,396.70 610.70,396.20 612.00,396.20 612.90,394.35 614.10,394.35 615.00,396.20 616.30,396.20 616.80,396.70 616.80,398.00 618.65,398.90"/>
<polygon points="623.65,400.10 621.80,401.00 621.80,402.30 621.30,402.80 620.00,402.80 619.10,404.65 617.90,404.65 617.00,402.80 615.70,402.80 615.20,402.30 615.20,401.00 613.35,400.10 613.35,398.90 615.20,398.00 615.20,396.70 615.70,396.20 617.00,396.20 617.90,394.35 619.10,394.35 620.00,396.20 621.30,396.20 621.80,396.70 621.80,398.00 623.65,398.90"/>
<polygon points="628.65,400.10 626.80,401.00 626.80,402.30 626.30,402.80 625.00,402.80 624.10,404.65 622.90,404.65 622.00,402.80 620.70,402.80 620.20,402.30 620.20,401.00 618.35,400.10 618.35,398.90 620.20,398.00 620.20,396.70 620.70,396.20 622.00,396.20 622.90,394.35 624.10,394.35 625.00,396.20 626.30,396.20 626.80,396.70 626.80,398.00 628.65,398.90"/>
<polygon points="634.65,400.10 632.80,401.00 632.80,402.30 632.30,402.80 631.00,402.80 630.10,404.65 628.90,404.65 628.00,402.80 626.70,402.80 626.20,402.30 626.20,401.00 624.35,400.10 624.35,398.90 626.20,398.00 626.20,396.70 626.70,396.20 628.00,396.20 628.90,394.35 630.10,394.35 631.00,396.20 632.30,396.20 632.80,396.70 632.80,398.00 634.65,398.90"/>
<polygon points="639.65,400.10 637.80,401.00 637.80,402.30 637.30,402.80 636.00,402.80 635.10,404.65 633.90,404.65 633.00,402.80 631.70,402.80 631.20,402.30 631.20,401.00 629.35,400.10 629.35,398.90 631.20,398.00 631.20,396.70 631.70,396.20 633.00,396.20 633.90,394.35 635.10,394.35 636.00,396.20 637.30,396.20 637.80,396.70 637.80,398.00 639.65,398.90"/>
<polygon points="644.65,334.10 642.80,335.00 642.80,336.30 642.30,336.80 641.00,336.80 640.10,338.65 638.90,338.65 638.00,336.80 636.70,336.80 636.20,336.30 636.20,335.00 634.35,334.10 634.35,332.90 636.20,332.00 636.20,330.70 636.70,330.20 638.00,330.20 638.90,328.35 640.10,328.35 641.00,330.20 642.30,330.20 642.80,330.70 642.80,332.00 644.65,332.90"/>
<polygon points="650.65,400.10 648.80,401.00 648.80,402.30 648.30,402.80 647.00,402.80 646.10,404.65 644.90,404.65 644.00,402.80 642.70,402.80 642.20,402.30 642.20,401.00 640.35,400.10 640.35,398.90 642.20,398.00 642.20,396.70 642.70,396.20 644.00,396.20 644.90,394.35 646.10,394.35 647.00,396.20 648.30,396.20 648.80,396.70 648.80,398.00 650.65,398.90"/>
<polygon points="655.65,400.10 653.80,401.00 653.80,402.30 653.30,402.80 652.00,402.80 651.10,404.65 649.90,404.65 649.00,402.80 647.70,402.80 647.20,402.30 647.20,401.00 645.35,400.10 645.35,398.90 647.20,398.00 647.20,396.70 647.70,396.20 649.00,396.20 649.90,394.35 651.10,394.35 652.00,396.20 653.30,396.20 653.80,396.70 653.80,398.00 655.65,398.90"/>
<polygon points="661.65,400.10 659.80,401.00 659.80,402.30 659.30,402.80 658.00,402.80 657.10,404.65 655.90,404.65 655.00,402.80 653.70,402.80 653.20,402.30 653.20,401.00 651.35,400.10 651.35,398.90 653.20,398.00 653.20,396.70 653.70,396.20 655.00,396.20 655.90,394.35 657.10,394.35 658.00,396.20 659.30,396.20 659.80,396.70 659.80,398.00 661.65,398.90"/>
</g>
<g stroke-width="2.7" fill="none"><path d="M437.5 89.5h30" stroke="#000"/><path d="M437.5 109.5h30" stroke="#008080"/></g>
<circle cx="452.4" cy="89.5" r="3.7" fill="#000"/><circle cx="452.4" cy="109.5" r="3.7" fill="#008080"/>
<text fill="#000" stroke="#000" stroke-width="0.3" font-weight="bold"><tspan x="208.94" y="42.2" style="letter-spacing:-0.009px;">Southern </tspan><tspan x="283.23" y="42.2" style="letter-spacing:-0.020px;">Hemisphere </tspan><tspan x="380.03" y="42.2">5 </tspan><tspan x="394.18" y="42.2">/ </tspan><tspan x="403.23" y="42.2">5 </tspan><tspan x="417.02" y="42.2">= </tspan><tspan x="431.41" y="42.2" style="letter-spacing:0.120px;">100.000%</tspan></text>
<text fill="#000" stroke="#000" stroke-width="0.3" font-weight="bold"><tspan x="178.60" y="62.2" style="letter-spacing:-0.072px;">AIRCRAFT_V_WIND_COMPONENT </tspan><tspan x="447.48" y="61.6" style="font-size:14px;">@ </tspan><tspan x="465.66" y="62.2" style="letter-spacing:-0.120px;">1000 </tspan><tspan x="504.54" y="62.2" style="letter-spacing:-0.120px;">hPa</tspan></text>
<text fill="#0046ff" stroke="#0046ff" stroke-width="0.15"><tspan x="470.17" y="95.7" style="letter-spacing:0.120px;">rmse </tspan><tspan x="510.28" y="95.7" style="letter-spacing:0.120px;">grand </tspan><tspan x="555.31" y="95.7" style="letter-spacing:-0.120px;">pr </tspan><tspan x="575.18" y="95.7">= </tspan><tspan x="589.10" y="95.7">0</tspan></text>
<text fill="#0046ff" stroke="#0046ff" stroke-width="0.15"><tspan x="470.16" y="115.0" style="letter-spacing:0.101px;">totalspread </tspan><tspan x="555.13" y="115.0" style="letter-spacing:0.095px;">grand </tspan><tspan x="600.97" y="115.0" style="letter-spacing:-0.030px;">pr </tspan><tspan x="621.08" y="115.0">= </tspan><tspan x="634.95" y="115.0">0</tspan></text>
<text fill="#262626" stroke="#262626" stroke-width="0.2" transform="translate(23.6 0) rotate(-90)"><tspan x="-311.26" y="0" style="letter-spacing:-0.060px;">rmse </tspan><tspan x="-271.29" y="0" style="letter-spacing:0.120px;">and </tspan><tspan x="-238.94" y="0" style="letter-spacing:0.120px;">totalspread</tspan></text>
<text fill="#d70a53" stroke="#d70a53" stroke-width="0.2" transform="translate(689.6 0) rotate(-90)"><tspan x="-361.05" y="0"># </tspan><tspan x="-348.66" y="0" style="letter-spacing:-0.120px;">of </tspan><tspan x="-328.97" y="0" style="letter-spacing:0.064px;">obs: </tspan><tspan x="-292.61" y="0" style="letter-spacing:0.120px;">o=possible; </tspan><tspan x="-205.27" y="0" style="font-size:10px;" fill-opacity="0.75" stroke="none">×</tspan><tspan x="-197.58" y="0" style="letter-spacing:0.085px;">=assimilated</tspan></text>
<g class="k" fill="#262626" text-anchor="end">
<text x="52.3" y="405.20">0</text>
<text x="52.3" y="339.20">0.2</text>
<text x="52.3" y="273.20">0.4</text>
<text x="52.3" y="207.20">0.6</text>
<text x="52.3" y="141.20">0.8</text>
<text x="52.3" y="76.20">1</text>
</g>
<g class="r" fill="#d70a53">
<text x="661.3" y="405.20">0</text>
<text x="661.3" y="339.20">1</text>
<text x="661.3" y="273.20">2</text>
<text x="661.3" y="207.20">3</text>
<text x="661.3" y="141.20">4</text>
<text x="661.3" y="76.20">5</text>
</g>
<g class="k" fill="#262626" text-anchor="middle">
<text x="122.17" y="419.8">02/04</text>
<text x="228.96" y="419.8">02/09</text>
<text x="335.74" y="419.8">02/14</text>
<text x="442.53" y="419.8">02/19</text>
<text x="549.31" y="419.8">02/24</text>
<text x="656.10" y="419.8">03/01</text>
<text x="356.5" y="440.5" textLength="192" lengthAdjust="spacing">Feb.01,2017 00:00:00 start</text>
</g>
<text x="397.5" y="458" text-anchor="middle" fill="#000" style="font-size:8px" textLength="503" lengthAdjust="spacing">data file: /Users/raeder/DAI/ATM_forcXX/CAM6_setup/f.e21.FHIST_BGC.f09_025.CAM6assim.011/Diags_NTrS_2017-02/obs_diag_output.nc</text>
</svg>
</body></html>
